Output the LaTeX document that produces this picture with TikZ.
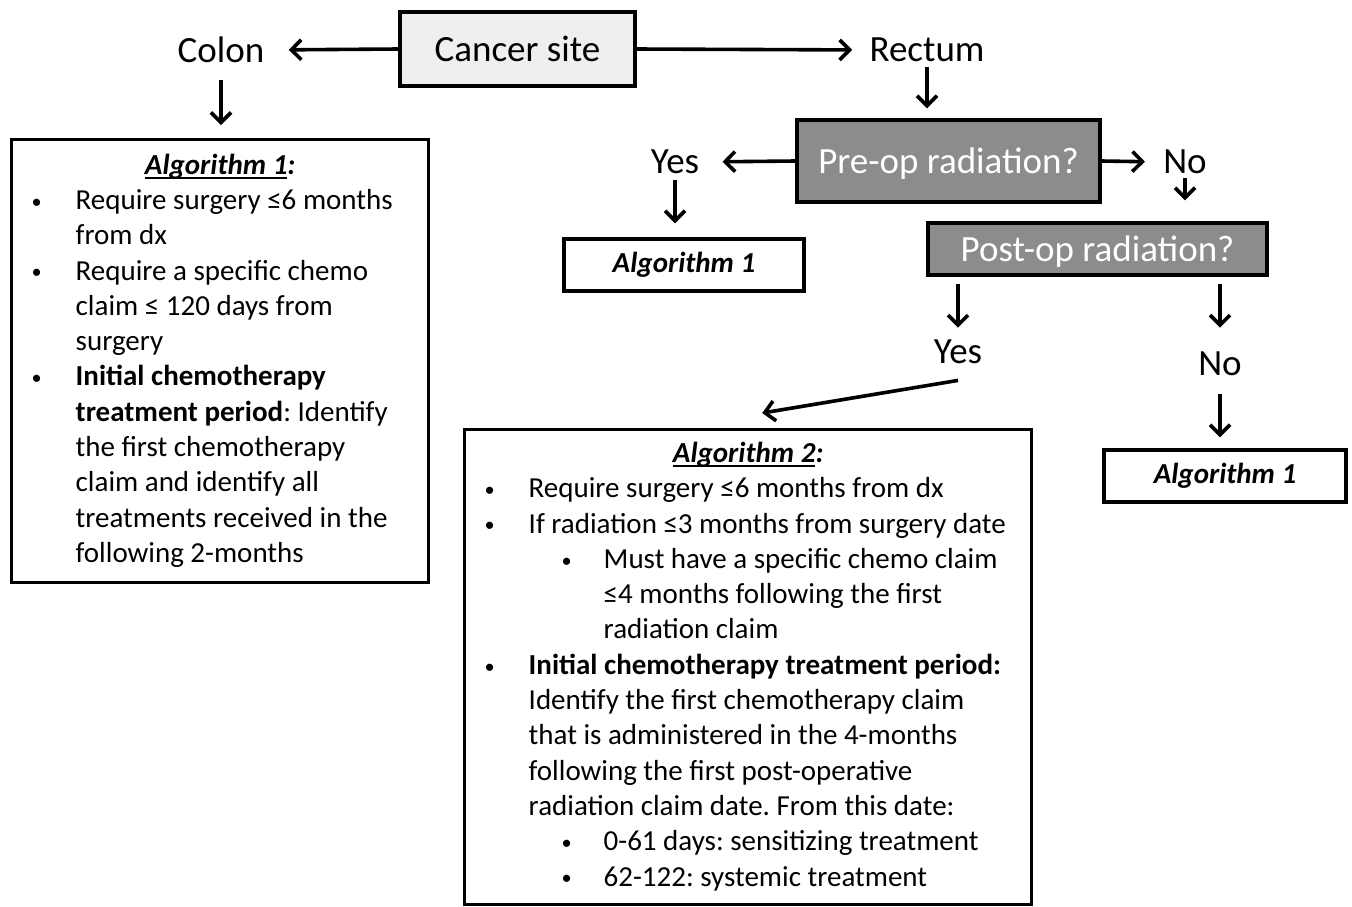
\documentclass[tikz,border=0pt]{standalone}
\usepackage{fontspec}
\setmainfont{Carlito}
\usetikzlibrary{arrows.meta}

\definecolor{sitefill}{HTML}{EFEFEF}
\definecolor{askfill}{HTML}{8C8C8C}
\newcommand{\bodysize}{\fontsize{14.5}{17.65}\selectfont}
\newcommand{\bigsize}{\fontsize{18.5}{22}\selectfont}
\newcommand{\dotmark}{\raisebox{0.6pt}{\scalebox{0.7}{\textbullet}}}
\newcommand{\thickul}[1]{\setbox0=\hbox{#1}\rlap{\rule[-2.2pt]{\wd0}{0.9pt}}\box0}

\tikzset{
  box/.style={draw, line width=1.7pt, inner sep=0pt},
  sitebox/.style={box, fill=sitefill, font=\bigsize},
  askbox/.style={box, fill=askfill, text=white, font=\bigsize, text depth=0pt},
  refbox/.style={box, font=\bodysize\bfseries\itshape, minimum height=26pt},
  algbox/.style={box, anchor=north west, inner xsep=10pt, inner ysep=4.85pt, font=\bodysize},
  lbl/.style={inner sep=0pt, font=\bigsize},
  flow/.style={line width=1.8pt, -{Straight Barb[length=5pt,width=10pt,line width=1.8pt]}}
}

\begin{document}
\frenchspacing
\begin{tikzpicture}[x=0.5pt, y=-0.5pt]

    \useasboundingbox (0,0) rectangle (1352,906);

    % Cancer site
    \node[sitebox, minimum width=117.5pt, minimum height=37pt] (site) at (517.5,49) {Cancer site};
    \node[lbl] (colon) at (221,50) {Colon};
    \node[lbl] (rectum) at (927,50) {Rectum};

    % Radiation questions
    \node[askbox, minimum width=151.5pt, minimum height=41pt] (preop) at (948.5,161) {Pre-op radiation?};
    \node[askbox, minimum width=169.5pt, minimum height=26pt] (postop) at (1097.5,249) {Post-op radiation?};

    % Answers
    \node[lbl] (yes1) at (675,162) {Yes};
    \node[lbl] (no1) at (1185,162) {No};
    \node[lbl] (yes2) at (958,352) {Yes};
    \node[lbl] (no2) at (1220,364) {No};

    % Algorithm 1 (short)
    \node[refbox, minimum width=120pt] (algA) at (684,265) {Algorithm 1};
    \node[refbox, minimum width=121pt] (algB) at (1225,476) {Algorithm 1};

    % ================================
    % Algorithm boxes

    % Algorithm 1
    \node[algbox] (alg1) at (10,138) {%
      \begin{tabular}{@{}p{22pt}@{}p{166.5pt}@{}}
        \multicolumn{2}{c}{\textbf{\textit{\thickul{Algorithm 1}:}}}\\
        \dotmark & Require surgery ≤6 months\\
                 & from dx\\
        \dotmark & Require a specific chemo\\
                 & claim ≤ 120 days from\\
                 & surgery\\
        \dotmark & \textbf{Initial chemotherapy}\\
                 & \textbf{treatment period}: Identify\\
                 & the first chemotherapy\\
                 & claim and identify all\\
                 & treatments received in the\\
                 & following 2-months
      \end{tabular}};

    % Algorithm 2
    \node[algbox, inner ysep=4pt] (alg2) at (463,428) {%
      \begin{tabular}{@{}p{22pt}@{}p{241.5pt}@{}}
        \multicolumn{2}{c}{\textbf{\textit{\thickul{Algorithm 2}:}}}\\
        \dotmark & Require surgery ≤6 months from dx\\
        \dotmark & If radiation ≤3 months from surgery date\\
                 & \hspace*{16.5pt}\makebox[21pt][l]{\dotmark}Must have a specific chemo claim\\
                 & \hspace*{37.5pt}≤4 months following the first\\
                 & \hspace*{37.5pt}radiation claim\\
        \dotmark & \textbf{Initial chemotherapy treatment period:}\\
                 & Identify the first chemotherapy claim\\
                 & that is administered in the 4-months\\
                 & following the first post-operative\\
                 & radiation claim date. From this date:\\
                 & \hspace*{16.5pt}\makebox[21pt][l]{\dotmark}0-61 days: sensitizing treatment\\
                 & \hspace*{16.5pt}\makebox[21pt][l]{\dotmark}62-122: systemic treatment
      \end{tabular}};

    % ================================
    % Arrows

    \draw[flow, shorten >=12pt] (site.west) -- (colon.east);
    \draw[flow, shorten >=8.5pt] (site.east) -- (rectum.west);
    \draw[flow, shorten <=8.5pt, shorten >=6.5pt] (colon.south) -- (colon.south |- alg1.north);
    \draw[flow, shorten <=2.5pt, shorten >=5pt] (rectum.south) -- (rectum.south |- preop.north);

    \draw[flow, shorten >=11.5pt] (preop.west) -- (yes1.east);
    \draw[flow, shorten <=3pt, shorten >=7pt] (yes1.south) -- (yes1.south |- algA.north);
    \draw[flow, shorten >=9pt] (preop.east) -- (no1.west);
    \draw[flow, shorten <=2pt, shorten >=10.5pt] (no1.south) -- (no1.south |- postop.north);

    \draw[flow, shorten <=3.5pt, shorten >=6pt] (postop.south -| yes2) -- (yes2.north);
    \draw[flow, shorten <=3.5pt, shorten >=12pt] (postop.south -| no2) -- (no2.north);
    \draw[flow] ([yshift=-8pt]yes2.south) -- ([xshift=7pt, yshift=7.5pt]alg2.north);
    \draw[flow, shorten <=9pt, shorten >=5.5pt] (no2.south) -- (no2.south |- algB.north);

\end{tikzpicture}
\end{document}
